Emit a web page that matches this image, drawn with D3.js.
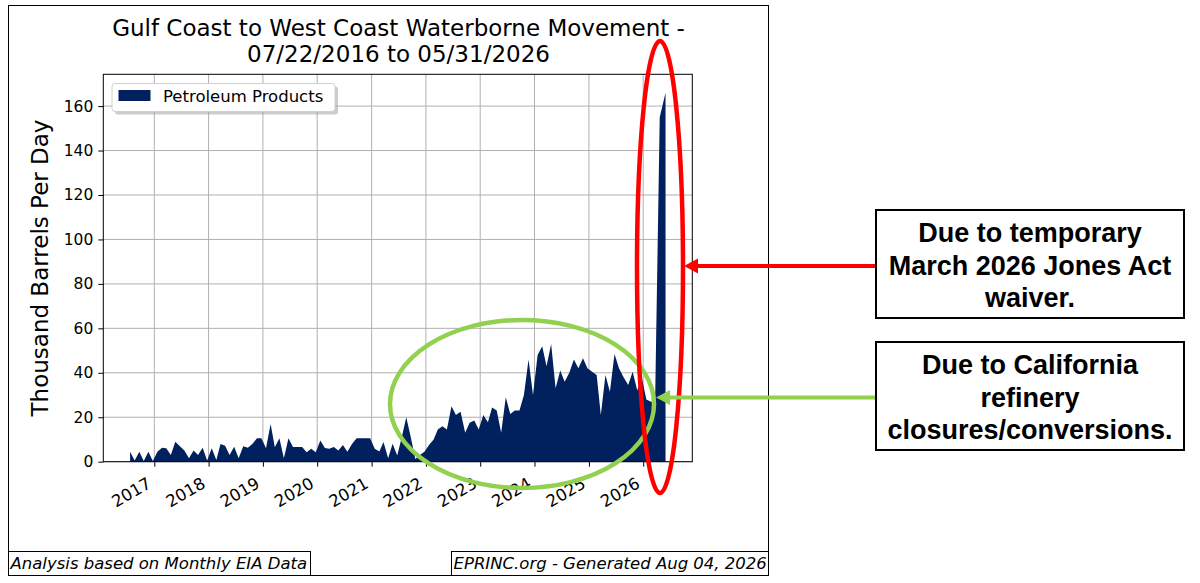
<!DOCTYPE html>
<html>
<head>
<meta charset="utf-8">
<script src="https://cdn.jsdelivr.net/npm/d3@7"></script>
<style>
  body { margin: 0; background: #fff; }
  svg { display: block; }
  text { font-family: "DejaVu Sans", sans-serif; fill: #000; }
  .note text { font-family: "Liberation Sans", Arial, sans-serif; font-weight: bold; }
</style>
</head>
<body>
<svg id="chart" width="1200" height="583"></svg>
<script>
// Monthly Gulf Coast -> West Coast petroleum products, thousand b/d
const startDate = new Date(2016, 6, 22);
const endDate = new Date(2026, 4, 31);
const values = [
  4.5, 0.5, 4.5, 0.3, 4.5, 0.3, 4.5, 6.3, 6, 3,
  9, 7, 5, 1.5, 5, 3, 6.3, 0.5, 6, 0.8,
  8, 7.2, 3, 6.7, 1.5, 7, 6.3, 8, 10.5, 10.5,
  6, 17, 6.5, 10.5, 1.5, 10.5, 6.6, 6.6, 6.6, 4.3,
  5.8, 4.3, 9.5, 6.2, 5.8, 6.6, 5, 7.5, 4.5, 8,
  10.5, 10.5, 10.5, 10.5, 5.8, 4.6, 8.9, 1.5, 8.1, 2.8,
  10.8, 20, 10.8, 1.2, 3, 4.5, 7.5, 10, 14.5, 16,
  14.5, 25, 21, 22.5, 13, 17.5, 18.5, 14.5, 21, 17.8,
  24.4, 23, 13, 29, 21.5, 23, 23, 30, 46, 30,
  48, 52, 43, 53, 33, 41, 36, 40, 46, 42,
  46.5, 42, 40.5, 39, 21, 39, 31.5, 48.5, 42, 38,
  34.5, 40.5, 32, 38, 28, 27, 27, 155, 166
];
const yTicks = [0, 20, 40, 60, 80, 100, 120, 140, 160];
const yearTicks = [2017, 2018, 2019, 2020, 2021, 2022, 2023, 2024, 2025, 2026];
const seriesName = "Petroleum Products";
const titleLines = ["Gulf Coast to West Coast Waterborne Movement -", "07/22/2016 to 05/31/2026"];
const yLabel = "Thousand Barrels Per Day";
const footLeft = "Analysis based on Monthly EIA Data";
const footRight = "EPRINC.org - Generated Aug 04, 2026";
const noteTop = ["Due to temporary", "March 2026 Jones Act", "waiver."];
const noteBottom = ["Due to California", "refinery", "closures/conversions."];

const data = values.map((v, i) => ({
  date: i === values.length - 1 ? endDate : d3.timeMonth.offset(startDate, i),
  v: v
}));

const svg = d3.select("#chart");
const plot = { left: 103.3, right: 692.3, top: 74.3, bottom: 461.7 };

// figure frame
svg.append("rect")
  .attr("x", 8.5).attr("y", 5.5).attr("width", 760).attr("height", 570)
  .attr("fill", "#fff").attr("stroke", "#000").attr("stroke-width", 1);

// matplotlib-style 5% x margins
const span = endDate - startDate;
const x = d3.scaleTime()
  .domain([new Date(+startDate - span * 0.05), new Date(+endDate + span * 0.05)])
  .range([plot.left, plot.right]);
const y = d3.scaleLinear()
  .domain([0, d3.max(values) * 1.05])
  .range([plot.bottom, plot.top]);

// grid
svg.append("g").selectAll("line")
  .data(yTicks).enter().append("line")
  .attr("x1", plot.left).attr("x2", plot.right)
  .attr("y1", d => y(d)).attr("y2", d => y(d))
  .attr("stroke", "#b0b0b0").attr("stroke-width", 1);
svg.append("g").selectAll("line")
  .data(yearTicks).enter().append("line")
  .attr("x1", d => x(new Date(d, 0, 1))).attr("x2", d => x(new Date(d, 0, 1)))
  .attr("y1", plot.top).attr("y2", plot.bottom)
  .attr("stroke", "#b0b0b0").attr("stroke-width", 1);

// area
const area = d3.area()
  .x(d => x(d.date))
  .y0(y(0))
  .y1(d => y(d.v));
svg.append("path")
  .datum(data)
  .attr("d", area)
  .attr("fill", "#01205e");

// axes
const yAxis = svg.append("g")
  .attr("transform", `translate(${plot.left},0)`)
  .call(d3.axisLeft(y).tickValues(yTicks).tickSize(5).tickPadding(5));
yAxis.select(".domain").remove();
yAxis.selectAll("text").style("font-size", "15.5px").style("font-family", "DejaVu Sans");

const xAxis = svg.append("g")
  .attr("transform", `translate(0,${plot.bottom})`)
  .call(d3.axisBottom(x).tickValues(yearTicks.map(d => new Date(d, 0, 1))).tickSize(5).tickFormat(""));
xAxis.select(".domain").remove();

// rotated year labels, right edge on the tick like matplotlib autofmt_xdate
svg.append("g").selectAll("text")
  .data(yearTicks).enter().append("text")
  .attr("transform", d => `translate(${x(new Date(d, 0, 1)) - 2},${plot.bottom + 25}) rotate(-30)`)
  .attr("text-anchor", "end")
  .style("font-size", "16.5px")
  .text(d => d);

// plot frame
svg.append("rect")
  .attr("x", plot.left).attr("y", plot.top)
  .attr("width", plot.right - plot.left).attr("height", plot.bottom - plot.top)
  .attr("fill", "none").attr("stroke", "#000").attr("stroke-width", 1);

// legend
const lg = svg.append("g").attr("transform", "translate(112,83.5)");
lg.append("rect").attr("x", 3).attr("y", 3).attr("width", 223).attr("height", 28)
  .attr("rx", 3).attr("fill", "#999").attr("opacity", 0.5);
lg.append("rect").attr("width", 223).attr("height", 28).attr("rx", 3)
  .attr("fill", "#fff").attr("stroke", "#d0d0d0");
lg.append("rect").attr("x", 6.5).attr("y", 6.5).attr("width", 32).attr("height", 11).attr("fill", "#01205e");
lg.append("text").attr("x", 51).attr("y", 18.5).style("font-size", "16.5px").text(seriesName);

// title
svg.append("g").selectAll("text")
  .data(titleLines).enter().append("text")
  .attr("x", 398.5).attr("y", (d, i) => 36 + i * 26)
  .attr("text-anchor", "middle")
  .style("font-size", "23px")
  .text(d => d);

// y label
svg.append("text")
  .attr("transform", `translate(48,${(plot.top + plot.bottom) / 2}) rotate(-90)`)
  .attr("text-anchor", "middle")
  .style("font-size", "23px")
  .text(yLabel);

// footers
const footers = [
  { text: footLeft, x: 8.5, w: 302 },
  { text: footRight, x: 451.5, w: 317 }
];
const ft = svg.append("g").selectAll("g").data(footers).enter().append("g");
ft.append("rect").attr("x", d => d.x).attr("y", 551.5).attr("width", d => d.w).attr("height", 24)
  .attr("fill", "#fff").attr("stroke", "#000");
ft.append("text").attr("x", d => d.x + 2).attr("y", 569)
  .style("font-size", "16.5px").style("font-style", "italic")
  .text(d => d.text);

// annotation highlights
svg.append("ellipse").attr("cx", 522).attr("cy", 404).attr("rx", 132).attr("ry", 84)
  .attr("fill", "none").attr("stroke", "#92d050").attr("stroke-width", 4.5);
svg.append("ellipse").attr("cx", 660).attr("cy", 267).attr("rx", 23).attr("ry", 226)
  .attr("fill", "none").attr("stroke", "#ff0000").attr("stroke-width", 4.5);

function arrow(y0, tip, color) {
  svg.append("line").attr("x1", 876).attr("x2", tip + 12).attr("y1", y0).attr("y2", y0)
    .attr("stroke", color).attr("stroke-width", 4);
  svg.append("path")
    .attr("d", `M${tip},${y0} L${tip + 14},${y0 - 7.5} L${tip + 14},${y0 + 7.5} Z`)
    .attr("fill", color);
}
arrow(266, 684, "#ff0000");
arrow(397.5, 656, "#92d050");

function note(top, lines) {
  const g = svg.append("g").attr("class", "note");
  g.append("rect").attr("x", 876).attr("y", top).attr("width", 308).attr("height", 108)
    .attr("fill", "#fff").attr("stroke", "#000").attr("stroke-width", 2);
  g.selectAll("text").data(lines).enter().append("text")
    .attr("x", 1030).attr("y", (d, i) => top + 32 + i * 32.5)
    .attr("text-anchor", "middle")
    .style("font-size", "27px")
    .text(d => d);
}
note(210, noteTop);
note(342, noteBottom);
</script>
</body>
</html>
